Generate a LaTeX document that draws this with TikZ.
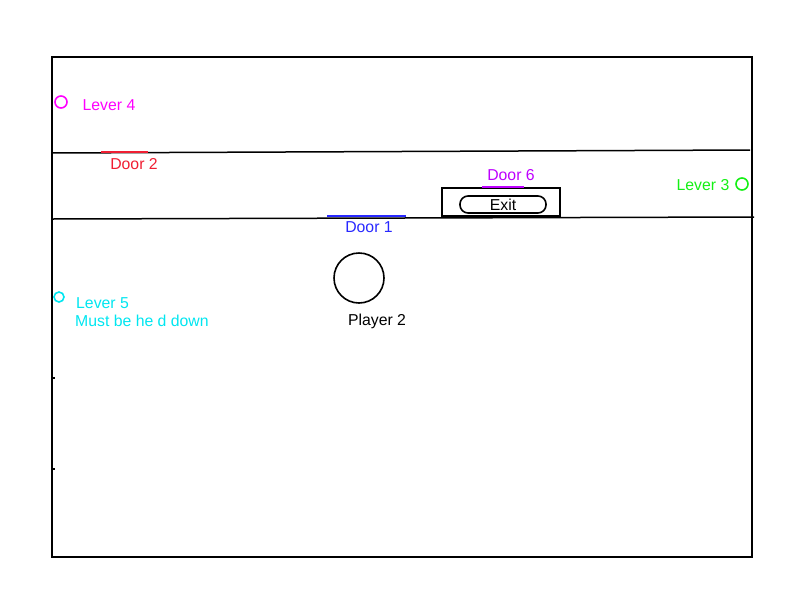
\documentclass[tikz,border=0pt]{standalone}
\usepackage{fontspec}
\setmainfont{Liberation Sans}
\definecolor{cmag}{RGB}{255,0,255}
\definecolor{cred}{RGB}{240,30,50}
\definecolor{cblue}{RGB}{40,40,255}
\definecolor{cpurp}{RGB}{190,0,255}
\definecolor{cgreen}{RGB}{20,240,20}
\definecolor{ccyan}{RGB}{0,230,240}
\begin{document}
\begin{tikzpicture}[x=1pt,y=-1pt,
  wall/.style={line width=1.8pt,black},
  doorline/.style={line width=1.6pt},
  lbl/.style={inner sep=0pt,font=\fontsize{15.8}{18}\selectfont},
  lever/.style={circle,draw,line width=1.6pt,inner sep=0pt}]
\useasboundingbox (0,0) rectangle (800,600);
\draw[wall] (52,57) rectangle (752,557);
% walls
\coordinate (w1a) at (52,153); \coordinate (w1b) at (750,150);
\draw[line width=1.5pt] (w1a) -- (w1b);
\coordinate (w2a) at (52,219); \coordinate (w2b) at (754,217);
\draw[line width=1.5pt] (w2a) -- (w2b);
% ticks on left wall
\coordinate (t1a) at (52,378); \coordinate (t1b) at (55,378);
\draw[line width=1.2pt] (t1a) -- (t1b);
\coordinate (t2a) at (52,469); \coordinate (t2b) at (55,469);
\draw[line width=1.2pt] (t2a) -- (t2b);
% door 2
\coordinate (d2a) at (101,152); \coordinate (d2b) at (148,152);
\draw[doorline,cred] (d2a) -- (d2b);
\node[lbl,text=cred] (door2) at (134,164) {Door 2};
% door 1
\coordinate (d1a) at (327,216); \coordinate (d1b) at (406,216);
\draw[doorline,cblue] (d1a) -- (d1b);
\node[lbl,text=cblue] (door1) at (369,227) {Door 1};
% exit
\node[draw,line width=1.6pt,minimum width=118pt,minimum height=28pt,inner sep=0pt] (exitbox) at (501,202) {};
\node[draw,line width=1.6pt,rounded corners=8pt,minimum width=86pt,minimum height=17pt,inner sep=0pt,font=\fontsize{15.8}{18}\selectfont] (exit) at (503,204.5) {Exit};
\coordinate (d6a) at (482,187); \coordinate (d6b) at (524,187);
\draw[doorline,cpurp] (d6a) -- (d6b);
\node[lbl,text=cpurp] (door6) at (511,175) {Door 6};
% levers
\node[lever,draw=cmag,minimum size=12pt] (lev4) at (61,102) {};
\node[lbl,text=cmag] (lev4l) at (109,105) {Lever 4};
\node[lever,draw=cgreen,minimum size=12pt] (lev3) at (742,184) {};
\node[lbl,text=cgreen] (lev3l) at (703,185) {Lever 3};
\node[lever,draw=ccyan,minimum size=10pt] (lev5) at (59,297) {};
\node[lbl,text=ccyan,anchor=west] (lev5l) at (76,303) {Lever 5};
\node[lbl,text=ccyan,anchor=west] (lev5m) at (75,321) {Must be he d down};
% player
\node[circle,draw,line width=1.6pt,minimum size=50pt,inner sep=0pt] (player) at (359,278) {};
\node[lbl] (playerl) at (377,321) {Player 2};
\end{tikzpicture}
\end{document}
